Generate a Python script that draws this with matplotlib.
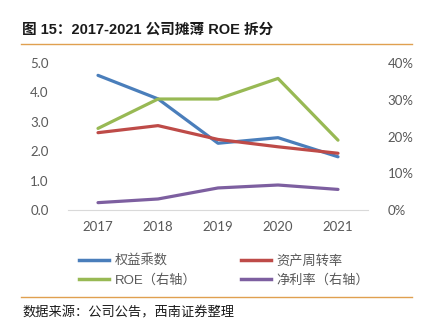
import matplotlib.pyplot as plt
from matplotlib.lines import Line2D

plt.rcParams['font.family'] = ['Noto Sans CJK SC', 'DejaVu Sans']

years = ['2017', '2018', '2019', '2020', '2021']
equity_multiplier = [4.58, 3.78, 2.27, 2.46, 1.81]
asset_turnover = [2.63, 2.87, 2.40, 2.15, 1.93]
roe = [22.2, 30.2, 30.2, 35.8, 19.0]
net_margin = [2.0, 3.0, 6.0, 6.8, 5.6]

blue = '#4A7EBB'
red = '#BE4B48'
green = '#98B954'
purple = '#7D5FA0'
gray = '#595959'
orange = '#E0A050'
num_font = ['Lato', 'DejaVu Sans']

fig = plt.figure(figsize=(4.29, 3.32), dpi=100)
W, H = 429, 332
ax = fig.add_axes([68 / W, 1 - 210 / H, 300 / W, 147 / H])
ax2 = ax.twinx()

x = range(len(years))
ax.plot(x, equity_multiplier, color=blue, lw=2.3, solid_capstyle='round')
ax.plot(x, asset_turnover, color=red, lw=2.3, solid_capstyle='round')
ax2.plot(x, roe, color=green, lw=2.3, solid_capstyle='round')
ax2.plot(x, net_margin, color=purple, lw=2.3, solid_capstyle='round')

ax.set_xlim(-0.5, 4.5)
ax.set_ylim(0, 5)
ax2.set_ylim(0, 40)
ax.set_yticks([0, 1, 2, 3, 4, 5])
ax.set_yticklabels([f'{v:.1f}' for v in range(6)], fontfamily=num_font)
ax2.set_yticks([0, 10, 20, 30, 40])
ax2.set_yticklabels([f'{v}%' for v in [0, 10, 20, 30, 40]], fontfamily=num_font)
ax.set_xticks(list(x))
ax.set_xticklabels(years, fontfamily=num_font)

for a in (ax, ax2):
    for s in a.spines.values():
        s.set_visible(False)
    a.tick_params(length=0, colors=gray, labelsize=9.5)
ax.spines['bottom'].set_visible(True)
ax.spines['bottom'].set_color('#D9D9D9')
ax.tick_params(axis='y', pad=14)
ax2.tick_params(axis='y', pad=14)
ax.tick_params(axis='x', pad=8)

# legend: column-major order so rows read blue/red, green/purple
handles = [Line2D([], [], color=blue, lw=2.5),
           Line2D([], [], color=green, lw=2.5),
           Line2D([], [], color=red, lw=2.5),
           Line2D([], [], color=purple, lw=2.5)]
labels = ['权益乘数', 'ROE（右轴）', '资产周转率', '净利率（右轴）']
fig.legend(handles, labels, ncol=2, loc='upper left', bbox_to_anchor=(67 / W, 1 - 243 / H),
           frameon=False, labelcolor=gray, handlelength=2.3,
           columnspacing=3.4, handletextpad=0.4, labelspacing=0.45,
           prop={'family': ['Liberation Sans', 'Noto Sans CJK SC'], 'size': 9.5})

fig.text(22 / W, 1 - 30 / H, '图 15：2017-2021 公司摊薄 ROE 拆分', fontsize=10.5,
         fontweight='bold', va='center', ha='left', color='#1a1a1a',
         family=['Liberation Sans', 'Noto Sans CJK SC'])
fig.add_artist(Line2D([21 / W, 412 / W], [1 - 44 / H, 1 - 44 / H], color=orange, lw=1))
fig.add_artist(Line2D([21 / W, 412 / W], [1 - 297 / H, 1 - 297 / H], color=orange, lw=1))
fig.text(22 / W, 1 - 313 / H, '数据来源：公司公告，西南证券整理', fontsize=9.5,
         style='italic', va='center', ha='left', color='#1a1a1a')

fig.savefig('out.png', dpi=100)
